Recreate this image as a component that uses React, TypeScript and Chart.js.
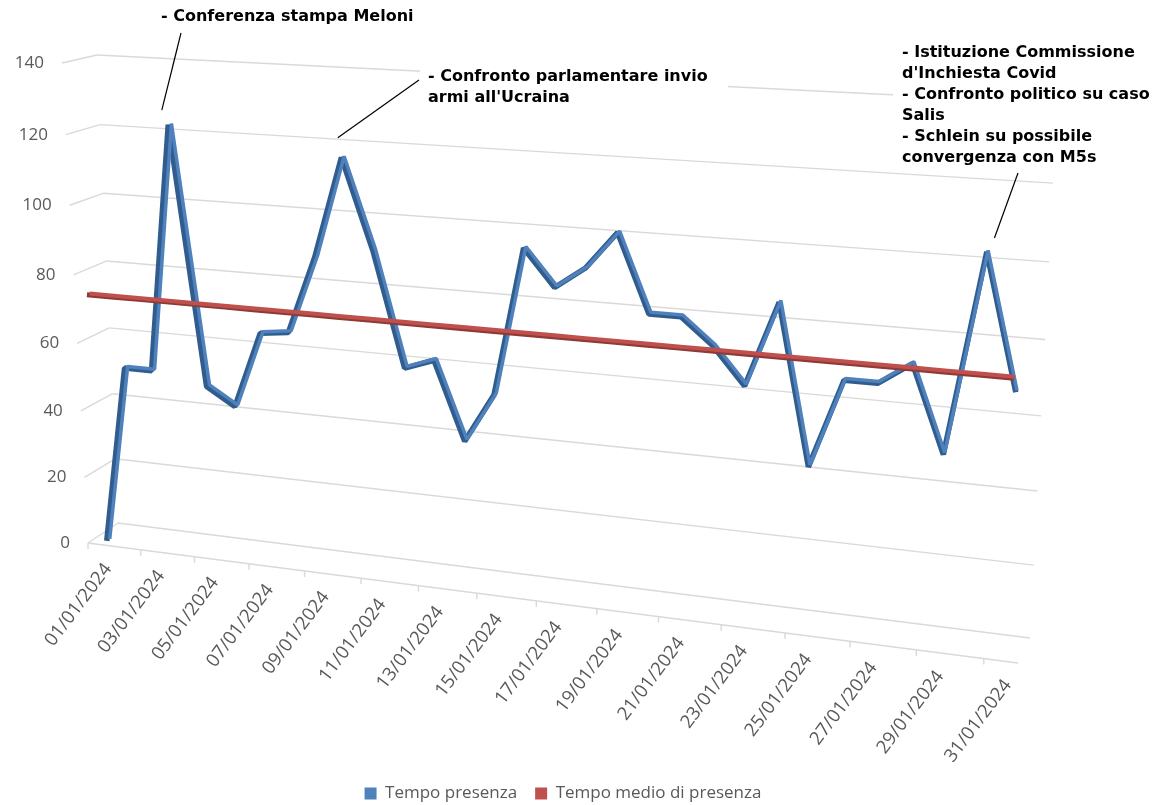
import React, { useEffect, useRef } from 'react';
import { Chart, registerables } from 'chart.js';

Chart.register(...registerables);

// ---------------- data ----------------
const DATES: string[] = [
  '01/01/2024', '02/01/2024', '03/01/2024', '04/01/2024', '05/01/2024', '06/01/2024',
  '07/01/2024', '08/01/2024', '09/01/2024', '10/01/2024', '11/01/2024', '12/01/2024',
  '13/01/2024', '14/01/2024', '15/01/2024', '16/01/2024', '17/01/2024', '18/01/2024',
  '19/01/2024', '20/01/2024', '21/01/2024', '22/01/2024', '23/01/2024', '24/01/2024',
  '25/01/2024', '26/01/2024', '27/01/2024', '28/01/2024', '29/01/2024', '30/01/2024',
  '31/01/2024',
];

const TEMPO_PRESENZA: number[] = [
  0, 53, 53, 124, 50, 45, 67, 68, 90, 118, 93, 61, 64, 42, 56, 97,
  87, 93, 103, 82, 82, 75, 65, 88, 45, 69, 69, 75, 52, 105, 70,
];

const TEMPO_MEDIO: number[] = [
  74.7, 74.7, 74.7, 74.7, 74.7, 74.7, 74.7, 74.7, 74.7, 74.7, 74.7, 74.7,
  74.7, 74.7, 74.7, 74.7, 74.7, 74.7, 74.7, 74.7, 74.7, 74.7, 74.7, 74.7,
  74.7, 74.7, 74.7, 74.7, 74.7, 74.7, 74.7,
];

const Y_TICKS: number[] = [0, 20, 40, 60, 80, 100, 120, 140];

const SERIES_NAMES: string[] = ['Tempo presenza', 'Tempo medio di presenza'];

const NOTE_MELONI: string[] = ['- Conferenza stampa Meloni'];
const NOTE_UCRAINA: string[] = ['- Confronto parlamentare invio', "armi all'Ucraina"];
const NOTE_FINE_MESE: string[] = [
  '- Istituzione Commissione',
  "d'Inchiesta Covid",
  '- Confronto politico su caso',
  'Salis',
  '- Schlein su possibile',
  'convergenza con M5s',
];
const NOTE_INDEX: number[] = [3, 9, 29];
const NOTES: string[][] = [NOTE_MELONI, NOTE_UCRAINA, NOTE_FINE_MESE];

// ---------------- layout / style ----------------
const BLUE = '#4F81BD';
const BLUE_DARK = '#315D8E';
const RED = '#C0504D';
const RED_DARK = '#8E3A37';
const GRID = '#D9D9D9';
const TEXT = '#595959';
const FONT = '"Open Sans", "Noto Sans", sans-serif';

type Pt = [number, number];
// corners of the 3D box: (u=0,t=0), (u=1,t=0), (u=1,t=1), (u=0,t=1)
const FRONT: Pt[] = [[88, 543], [1018, 663], [1045, 116], [62, 63]];
const BACK: Pt[] = [[118, 523], [1030, 638], [1057, 103], [97, 55]];

const NOTE_LAYOUT = [
  { x: 161, y: 17, box: [152, 4, 270, 28], from: [181, 33] as Pt, off: [-8, -14] as Pt },
  { x: 428, y: 77, box: [420, 64, 308, 46], from: [419, 80] as Pt, off: [-5, -19] as Pt },
  { x: 902, y: 53, box: [893, 40, 275, 130], from: [1018, 173] as Pt, off: [7, -13] as Pt },
];
const NOTE_LINE_H = 21;

function quadMap(q: Pt[]) {
  const [x0, y0] = q[0], [x1, y1] = q[1], [x2, y2] = q[2], [x3, y3] = q[3];
  const dx1 = x1 - x2, dx2 = x3 - x2, dx3 = x0 - x1 + x2 - x3;
  const dy1 = y1 - y2, dy2 = y3 - y2, dy3 = y0 - y1 + y2 - y3;
  const den = dx1 * dy2 - dx2 * dy1;
  const g = (dx3 * dy2 - dx2 * dy3) / den;
  const h = (dx1 * dy3 - dx3 * dy1) / den;
  const a = x1 - x0 + g * x1, b = x3 - x0 + h * x3, c = x0;
  const d = y1 - y0 + g * y1, e = y3 - y0 + h * y3, f = y0;
  return (u: number, t: number): Pt => {
    const w = g * u + h * t + 1;
    return [(a * u + b * t + c) / w, (d * u + e * t + f) / w];
  };
}

function planeAt(depth: number) {
  const q = FRONT.map((p, k) => [
    p[0] + (BACK[k][0] - p[0]) * depth,
    p[1] + (BACK[k][1] - p[1]) * depth,
  ] as Pt);
  return quadMap(q);
}

const perspectivePlugin = {
  id: 'perspective3d',
  afterDatasetsUpdate(chart: any) {
    const ca = chart.chartArea;
    chart.data.datasets.forEach((ds: any, i: number) => {
      const meta = chart.getDatasetMeta(i);
      const map = planeAt(ds.depth ?? 0.25);
      meta.data.forEach((pt: any) => {
        const u = (pt.x - ca.left) / (ca.right - ca.left);
        const t = (ca.bottom - pt.y) / (ca.bottom - ca.top);
        const [x, y] = map(u, t);
        pt.x = x;
        pt.y = y;
      });
    });
  },
  beforeDatasetsDraw(chart: any) {
    const { ctx, chartArea: ca } = chart;
    const xs = chart.scales.x, ys = chart.scales.y;
    const toU = (px: number) => (px - ca.left) / (ca.right - ca.left);
    const toT = (py: number) => (ca.bottom - py) / (ca.bottom - ca.top);
    const front = planeAt(0), back = planeAt(1);
    const seg = (p: Pt, q: Pt) => {
      ctx.beginPath();
      ctx.moveTo(p[0], p[1]);
      ctx.lineTo(q[0], q[1]);
      ctx.stroke();
    };
    ctx.save();
    ctx.strokeStyle = GRID;
    ctx.lineWidth = 1.4;
    Y_TICKS.forEach((v) => {
      const t = toT(ys.getPixelForValue(v));
      seg(back(0, t), back(1, t));
      seg(front(0, t), back(0, t));
    });
    seg(front(0, 0), front(1, 0));
    const half = (xs.getPixelForValue(1) - xs.getPixelForValue(0)) / 2;
    for (let i = 0; i < DATES.length; i += 2) {
      const p = front(toU(xs.getPixelForValue(i) - half), 0);
      seg(p, [p[0], p[1] + 6]);
    }
    ctx.fillStyle = TEXT;
    ctx.font = `17px ${FONT}`;
    ctx.textAlign = 'right';
    ctx.textBaseline = 'middle';
    Y_TICKS.forEach((v) => {
      const p = front(0, toT(ys.getPixelForValue(v)));
      ctx.fillText(String(v), p[0] - 18, p[1]);
    });
    ctx.font = `18.5px ${FONT}`;
    for (let i = 0; i < DATES.length; i += 2) {
      const p = front(toU(xs.getPixelForValue(i)), 0);
      ctx.save();
      ctx.translate(p[0] + 7, p[1] + 21);
      ctx.rotate((-53 * Math.PI) / 180);
      ctx.fillText(DATES[i], 0, 0);
      ctx.restore();
    }
    ctx.restore();
  },
  afterDatasetsDraw(chart: any) {
    const { ctx, chartArea: ca } = chart;
    const xs = chart.scales.x, ys = chart.scales.y;
    const toU = (px: number) => (px - ca.left) / (ca.right - ca.left);
    const toT = (py: number) => (ca.bottom - py) / (ca.bottom - ca.top);
    const mid = planeAt(0.24);
    ctx.save();
    NOTES.forEach((lines, k) => {
      const L = NOTE_LAYOUT[k];
      ctx.fillStyle = '#ffffff';
      ctx.fillRect(L.box[0], L.box[1], L.box[2], L.box[3]);
      const idx = NOTE_INDEX[k];
      const p = mid(toU(xs.getPixelForValue(idx)), toT(ys.getPixelForValue(TEMPO_PRESENZA[idx])));
      ctx.strokeStyle = '#000000';
      ctx.lineWidth = 1.2;
      ctx.beginPath();
      ctx.moveTo(L.from[0], L.from[1]);
      ctx.lineTo(p[0] + L.off[0], p[1] + L.off[1]);
      ctx.stroke();
      ctx.fillStyle = '#000000';
      ctx.font = 'bold 16px "DejaVu Sans", Verdana, sans-serif';
      ctx.textAlign = 'left';
      ctx.textBaseline = 'middle';
      lines.forEach((line, j) => ctx.fillText(line, L.x, L.y + j * NOTE_LINE_H));
    });
    ctx.restore();
  },
};

export default function App() {
  const ref = useRef<HTMLCanvasElement | null>(null);

  useEffect(() => {
    if (!ref.current) return;
    Chart.defaults.font.family = FONT;
    const common = {
      pointRadius: 0,
      pointHoverRadius: 0,
      fill: false,
      tension: 0,
      clip: false,
      borderCapStyle: 'butt',
      borderJoinStyle: 'bevel',
    };
    const chart = new Chart(ref.current, {
      type: 'line',
      data: {
        labels: DATES,
        datasets: [
          { ...common, label: SERIES_NAMES[1], data: TEMPO_MEDIO, borderColor: RED, backgroundColor: RED, borderWidth: 4, depth: 0.05 } as any,
          { ...common, label: SERIES_NAMES[1] + ' ', data: TEMPO_MEDIO, borderColor: RED_DARK, backgroundColor: RED_DARK, borderWidth: 5, depth: -0.03 } as any,
          { ...common, label: SERIES_NAMES[0], data: TEMPO_PRESENZA, borderColor: BLUE, backgroundColor: BLUE, borderWidth: 3.5, depth: 0.29 } as any,
          { ...common, label: SERIES_NAMES[0] + ' ', data: TEMPO_PRESENZA, borderColor: BLUE_DARK, backgroundColor: BLUE_DARK, borderWidth: 5.5, depth: 0.19 } as any,
        ],
      },
      options: {
        responsive: false,
        maintainAspectRatio: false,
        animation: false,
        events: [],
        layout: { padding: { left: 0, right: 42, top: 0, bottom: -7 } },
        scales: {
          x: { type: 'category', offset: true, display: false },
          y: { type: 'linear', min: 0, max: 140, display: false, ticks: { stepSize: 20 } },
        },
        plugins: {
          tooltip: { enabled: false },
          legend: {
            position: 'bottom',
            labels: {
              boxWidth: 12,
              boxHeight: 12,
              padding: 18,
              color: TEXT,
              font: { family: FONT, size: 17 },
              generateLabels: () => [
                { text: SERIES_NAMES[0], fillStyle: BLUE, strokeStyle: BLUE, lineWidth: 0, hidden: false, datasetIndex: 2, fontColor: TEXT },
                { text: SERIES_NAMES[1], fillStyle: RED, strokeStyle: RED, lineWidth: 0, hidden: false, datasetIndex: 0, fontColor: TEXT },
              ],
            },
          },
        },
      } as any,
      plugins: [perspectivePlugin as any],
    });
    return () => chart.destroy();
  }, []);

  return (
    <div style={{ position: 'fixed', left: 0, top: 0, width: 1168, height: 805, background: '#ffffff' }}>
      <canvas ref={ref} width={1168} height={805} style={{ display: 'block', width: 1168, height: 805 }} />
    </div>
  );
}
